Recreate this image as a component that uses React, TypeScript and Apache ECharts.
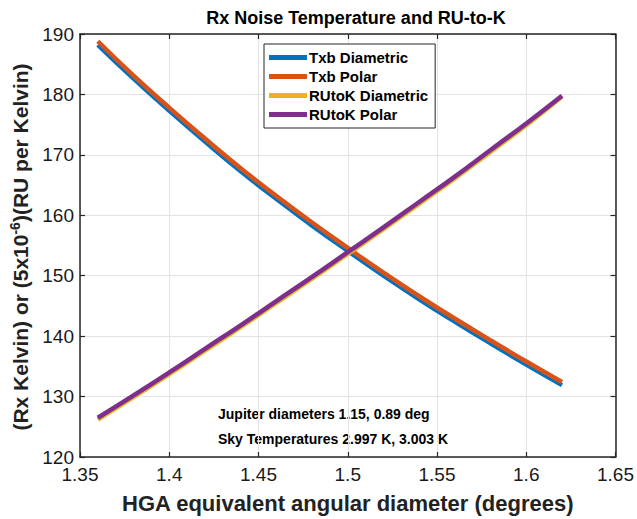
import React, { useEffect, useRef } from "react";
import * as echarts from "echarts";

const diameters = [1.36, 1.38, 1.4, 1.42, 1.44, 1.46, 1.48, 1.5, 1.52, 1.54, 1.56, 1.58, 1.6, 1.62];
const txbDiametric = [188.2, 182.6, 177.3, 172.2, 167.3, 162.7, 158.3, 154.1, 150.0, 146.1, 142.4, 138.8, 135.3, 131.9];
const txbPolar = [188.8, 183.1, 177.8, 172.7, 167.8, 163.2, 158.8, 154.6, 150.5, 146.6, 142.9, 139.3, 135.8, 132.4];
const rutokDiametric = [126.2, 129.9, 133.7, 137.6, 141.5, 145.5, 149.5, 153.6, 157.7, 161.9, 166.1, 170.5, 174.9, 179.6];
const rutokPolar = [126.5, 130.2, 134.0, 137.9, 141.8, 145.8, 149.8, 153.9, 158.0, 162.2, 166.4, 170.8, 175.2, 179.8];

const seriesNames = ["Txb Diametric", "Txb Polar", "RUtoK Diametric", "RUtoK Polar"];
const seriesColors = ["#0072BD", "#D95319", "#EDB120", "#7E2F8E"];
const seriesData = [txbDiametric, txbPolar, rutokDiametric, rutokPolar];

const titleText = "Rx Noise Temperature and RU-to-K";
const xLabel = "HGA equivalent angular diameter (degrees)";
const notes = ["Jupiter diameters 1.15, 0.89 deg", "Sky Temperatures 2.997 K, 3.003 K"];

const FONT = "'Liberation Sans', Arial, Helvetica, sans-serif";

export default function App() {
  const ref = useRef<HTMLDivElement>(null);
  useEffect(() => {
    document.body.style.margin = "0";
    const chart = echarts.init(ref.current!, null, { renderer: "svg" });
    const axisLine = { show: true, lineStyle: { color: "#262626", width: 1.5 } };
    const tick = { show: true, inside: true, length: 5, lineStyle: { color: "#262626", width: 1.2 } };
    const label = { color: "#1a1a1a", fontSize: 19, fontFamily: FONT };
    chart.setOption({
      animation: false,
      backgroundColor: "#ffffff",
      title: {
        text: titleText,
        left: 351,
        textAlign: "center",
        top: 4,
        textStyle: { fontSize: 18, fontWeight: "bold", color: "#000", fontFamily: FONT },
      },
      legend: {
        data: seriesNames,
        orient: "vertical",
        left: 264,
        top: 44,
        backgroundColor: "#fff",
        borderColor: "#262626",
        borderWidth: 1,
        borderRadius: 0,
        padding: [6, 7, 6, 5],
        itemGap: 4,
        itemWidth: 38,
        itemHeight: 5,
        icon: "rect",
        textStyle: { fontSize: 15, fontWeight: "bold", color: "#000", fontFamily: FONT, padding: [0, 0, 0, -3] },
      },
      grid: { left: 80, right: 17, top: 34, bottom: 60 },
      xAxis: [
        {
          type: "value",
          min: 1.35,
          max: 1.65,
          interval: 0.05,
          position: "bottom",
          axisLine,
          axisTick: tick,
          axisLabel: { ...label, margin: 8 },
          splitLine: { show: true, lineStyle: { color: "#e3e3e3", width: 1 } },
          name: xLabel,
          nameLocation: "middle",
          nameGap: 35,
          nameTextStyle: { fontSize: 22, fontWeight: "bold", color: "#222", fontFamily: FONT },
        },
        {
          type: "value",
          min: 1.35,
          max: 1.65,
          interval: 0.05,
          position: "top",
          axisLine,
          axisTick: tick,
          axisLabel: { show: false },
          splitLine: { show: false },
        },
      ],
      yAxis: [
        {
          type: "value",
          min: 120,
          max: 190,
          interval: 10,
          position: "left",
          axisLine,
          axisTick: tick,
          axisLabel: { ...label, margin: 6 },
          splitLine: { show: true, lineStyle: { color: "#e3e3e3", width: 1 } },
        },
        {
          type: "value",
          min: 120,
          max: 190,
          interval: 10,
          position: "right",
          axisLine,
          axisTick: tick,
          axisLabel: { show: false },
          splitLine: { show: false },
        },
      ],
      graphic: [
        {
          type: "text",
          x: 20,
          y: 247,
          rotation: Math.PI / 2,
          style: {
            text: "{a|(Rx Kelvin) or (5x10}{s|-6}{a|)(RU per Kelvin)}",
            align: "center",
            verticalAlign: "middle",
            rich: {
              a: { fontSize: 21, fontWeight: "bold", fill: "#222", fontFamily: FONT },
              s: { fontSize: 14, fontWeight: "bold", fill: "#222", fontFamily: FONT, verticalAlign: "top", padding: [0, 0, 10, 0] },
            },
          },
        },
        {
          type: "text",
          left: 218,
          top: 407,
          style: { text: notes[0], fontSize: 14, fontWeight: "bold", fill: "#000", fontFamily: FONT },
        },
        {
          type: "text",
          left: 218,
          top: 432,
          style: { text: notes[1], fontSize: 14, fontWeight: "bold", fill: "#000", fontFamily: FONT },
        },
      ],
      series: seriesNames.map((name, i) => ({
        name,
        type: "line",
        data: diameters.map((d, j) => [d, seriesData[i][j]]),
        showSymbol: false,
        symbol: "none",
        smooth: true,
        lineStyle: { color: seriesColors[i], width: 4.5 },
        itemStyle: { color: seriesColors[i] },
        z: 2 + i,
      })),
    });
    return () => chart.dispose();
  }, []);
  return <div ref={ref} style={{ width: 637, height: 519 }} />;
}
